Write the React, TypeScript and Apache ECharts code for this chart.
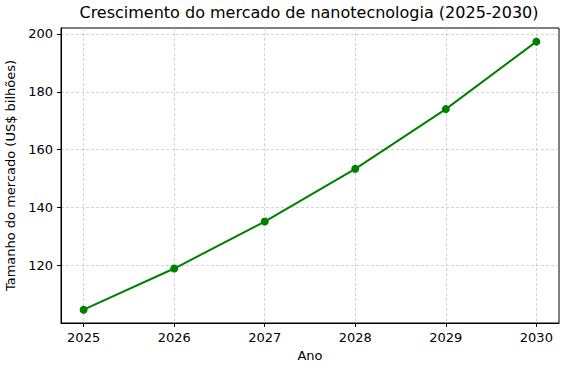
import React, { useEffect, useRef } from "react";
import * as echarts from "echarts";

const years = [2025, 2026, 2027, 2028, 2029, 2030];
const marketSize = [104.8, 119.0, 135.2, 153.4, 174.0, 197.3];
const yTicks = [120, 140, 160, 180, 200];
const title = "Crescimento do mercado de nanotecnologia (2025-2030)";
const xName = "Ano";
const yName = "Tamanho do mercado (US$ bilhões)";

const FONT = "DejaVu Sans";

export default function App() {
  const ref = useRef<HTMLDivElement>(null);
  useEffect(() => {
    if (!ref.current) return;
    const chart = echarts.init(ref.current, null, { renderer: "svg" });
    const gridLine = { show: true, lineStyle: { color: "#b8b8b8", width: 0.6, type: [3, 2] as any } };
    chart.setOption({
      animation: false,
      title: {
        text: title,
        left: 309,
        textAlign: "center",
        top: 4,
        padding: 0,
        textStyle: { fontFamily: FONT, fontSize: 16, fontWeight: "normal", color: "#000" },
      },
      grid: {
        left: 61, right: 7, top: 28, bottom: 45,
        show: true, borderColor: "#000", borderWidth: 1,
        outerBoundsMode: "none", containLabel: false,
      },
      xAxis: {
        type: "value",
        min: 2024.75,
        max: 2030.25,
        name: xName,
        nameLocation: "middle",
        nameGap: 26,
        nameTextStyle: { fontFamily: FONT, fontSize: 13, color: "#000" },
        axisLine: { show: true, lineStyle: { color: "#000", width: 1 } },
        axisTick: { show: true, length: 4, lineStyle: { color: "#000" }, customValues: years },
        axisLabel: { customValues: years, margin: 8, fontFamily: FONT, fontSize: 13, color: "#000", formatter: (v: number) => String(v) },
        splitLine: gridLine,
      },
      yAxis: {
        type: "value",
        min: 100.2,
        max: 202,
        name: yName,
        nameLocation: "middle",
        nameGap: 40,
        nameTextStyle: { fontFamily: FONT, fontSize: 13, color: "#000" },
        axisLine: { show: true, lineStyle: { color: "#000", width: 1 } },
        axisTick: { show: true, length: 4, lineStyle: { color: "#000" }, customValues: yTicks },
        axisLabel: { customValues: yTicks, margin: 8, fontFamily: FONT, fontSize: 13, color: "#000", formatter: (v: number) => String(v) },
        splitLine: gridLine,
      },
      series: [
        {
          type: "line",
          data: years.map((y, i) => [y, marketSize[i]]),
          symbol: "circle",
          symbolSize: 8,
          lineStyle: { color: "#008000", width: 2 },
          itemStyle: { color: "#008000" },
        },
      ],
    });
    return () => chart.dispose();
  }, []);
  return <div ref={ref} style={{ width: 566, height: 368, position: "absolute", left: 0, top: 0 }} />;
}
